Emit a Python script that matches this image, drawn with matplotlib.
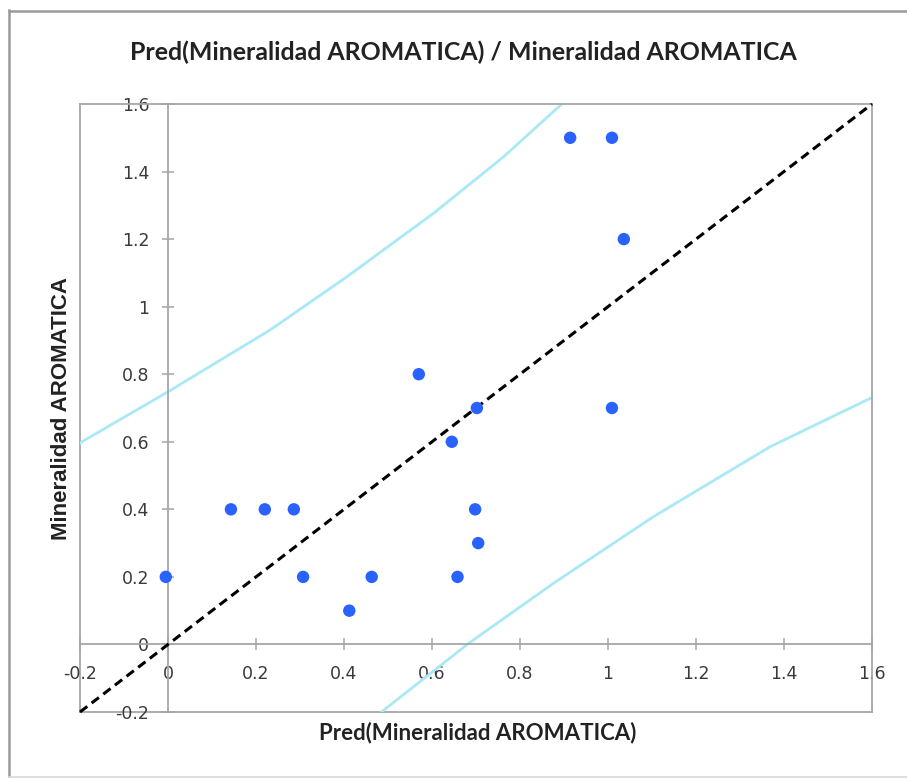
import matplotlib
matplotlib.use("Agg")
import matplotlib.pyplot as plt
from matplotlib.lines import Line2D

# Observed vs predicted values
pred = [-0.005, 0.143, 0.220, 0.286, 0.307, 0.412, 0.463, 0.570, 0.645,
        0.658, 0.698, 0.702, 0.705, 0.914, 1.009, 1.036, 1.009]
obs = [0.2, 0.4, 0.4, 0.4, 0.2, 0.1, 0.2, 0.8, 0.6,
       0.2, 0.4, 0.7, 0.3, 1.5, 1.5, 1.2, 0.7]

# Prediction interval bounds
upper_x = [-0.2, -0.196, 0.0, 0.232, 0.406, 0.603, 0.762, 0.895]
upper_y = [0.595, 0.600, 0.748, 0.931, 1.088, 1.276, 1.443, 1.600]
lower_x = [0.486, 0.683, 0.876, 1.103, 1.368, 1.600]
lower_y = [-0.199, 0.003, 0.181, 0.378, 0.585, 0.731]

ticks = [-0.2, 0, 0.2, 0.4, 0.6, 0.8, 1.0, 1.2, 1.4, 1.6]
tick_labels = ["-0.2", "0", "0.2", "0.4", "0.6", "0.8", "1", "1.2", "1.4", "1.6"]

title = "Pred(Mineralidad AROMATICA) / Mineralidad AROMATICA"
xlabel = "Pred(Mineralidad AROMATICA)"
ylabel = "Mineralidad AROMATICA"

W, H = 907, 778
fig = plt.figure(figsize=(W / 100, H / 100), dpi=100)
fig.patch.set_facecolor("white")

# outer chart frame
frame_col = "#9a9a9a"
fig.add_artist(Line2D([8.5 / W, 8.5 / W], [1 - 10 / H, 1 - 776 / H], color=frame_col, lw=1.8))
fig.add_artist(Line2D([8.5 / W, 1.0], [1 - 10.5 / H, 1 - 10.5 / H], color=frame_col, lw=1.8))
fig.add_artist(Line2D([8.5 / W, 1.0], [1 - 776.5 / H, 1 - 776.5 / H], color="#d8d8d8", lw=1.2))

ax = fig.add_axes([80 / W, 1 - 712 / H, 792 / W, 608 / H])
ax.set_xlim(-0.2, 1.6)
ax.set_ylim(-0.2, 1.6)

axis_col = "#a6a6a6"
for side in ("left", "bottom"):
    ax.spines[side].set_position(("data", 0))
    ax.spines[side].set_color(axis_col)
    ax.spines[side].set_linewidth(1.3)
for side in ("top", "right"):
    ax.spines[side].set_color(axis_col)
    ax.spines[side].set_linewidth(1.3)
# plot-area border on the left and bottom edges
ax.plot([0, 0], [0, 1], transform=ax.transAxes, color=axis_col, lw=1.3, clip_on=False, zorder=1)
ax.plot([0, 1], [0, 0], transform=ax.transAxes, color=axis_col, lw=1.3, clip_on=False, zorder=1)

ax.set_xticks(ticks)
ax.set_xticklabels(tick_labels)
ax.set_yticks(ticks)
ax.set_yticklabels(tick_labels)
ax.tick_params(axis="both", direction="inout", length=9, width=1.1, color=axis_col,
               labelsize=12.5, labelcolor="#3a3a3a")
ax.tick_params(axis="x", pad=10)
ax.tick_params(axis="y", pad=9)
for lab in ax.get_xticklabels() + ax.get_yticklabels():
    lab.set_family("DejaVu Sans")

# prediction interval curves
ax.plot(upper_x, upper_y, color="#a9e9f5", lw=2.0, zorder=2)
ax.plot(lower_x, lower_y, color="#a9e9f5", lw=2.0, zorder=2)

# identity line
ax.plot(ticks, ticks, color="black", lw=2.2, ls=(0, (3, 1.8)), zorder=3, clip_on=False)

# observations
ax.scatter(pred, obs, s=80, color="#2962ff", edgecolors="none", zorder=4, clip_on=False)

fig.text(463 / W, 1 - 52 / H, title, ha="center", va="center",
         fontsize=17.9, fontweight="bold", family=["Lato", "DejaVu Sans"],
         color="#222222")
fig.text(478 / W, 1 - 733 / H, xlabel, ha="center", va="center",
         fontsize=16, fontweight="bold", family=["Lato", "DejaVu Sans"],
         color="#222222")
fig.text(62 / W, 1 - 409 / H, ylabel, ha="center", va="center", rotation=90,
         fontsize=16, fontweight="bold", family=["Liberation Sans", "DejaVu Sans"],
         color="#222222")

fig.savefig("out.png", dpi=100, facecolor="white")
